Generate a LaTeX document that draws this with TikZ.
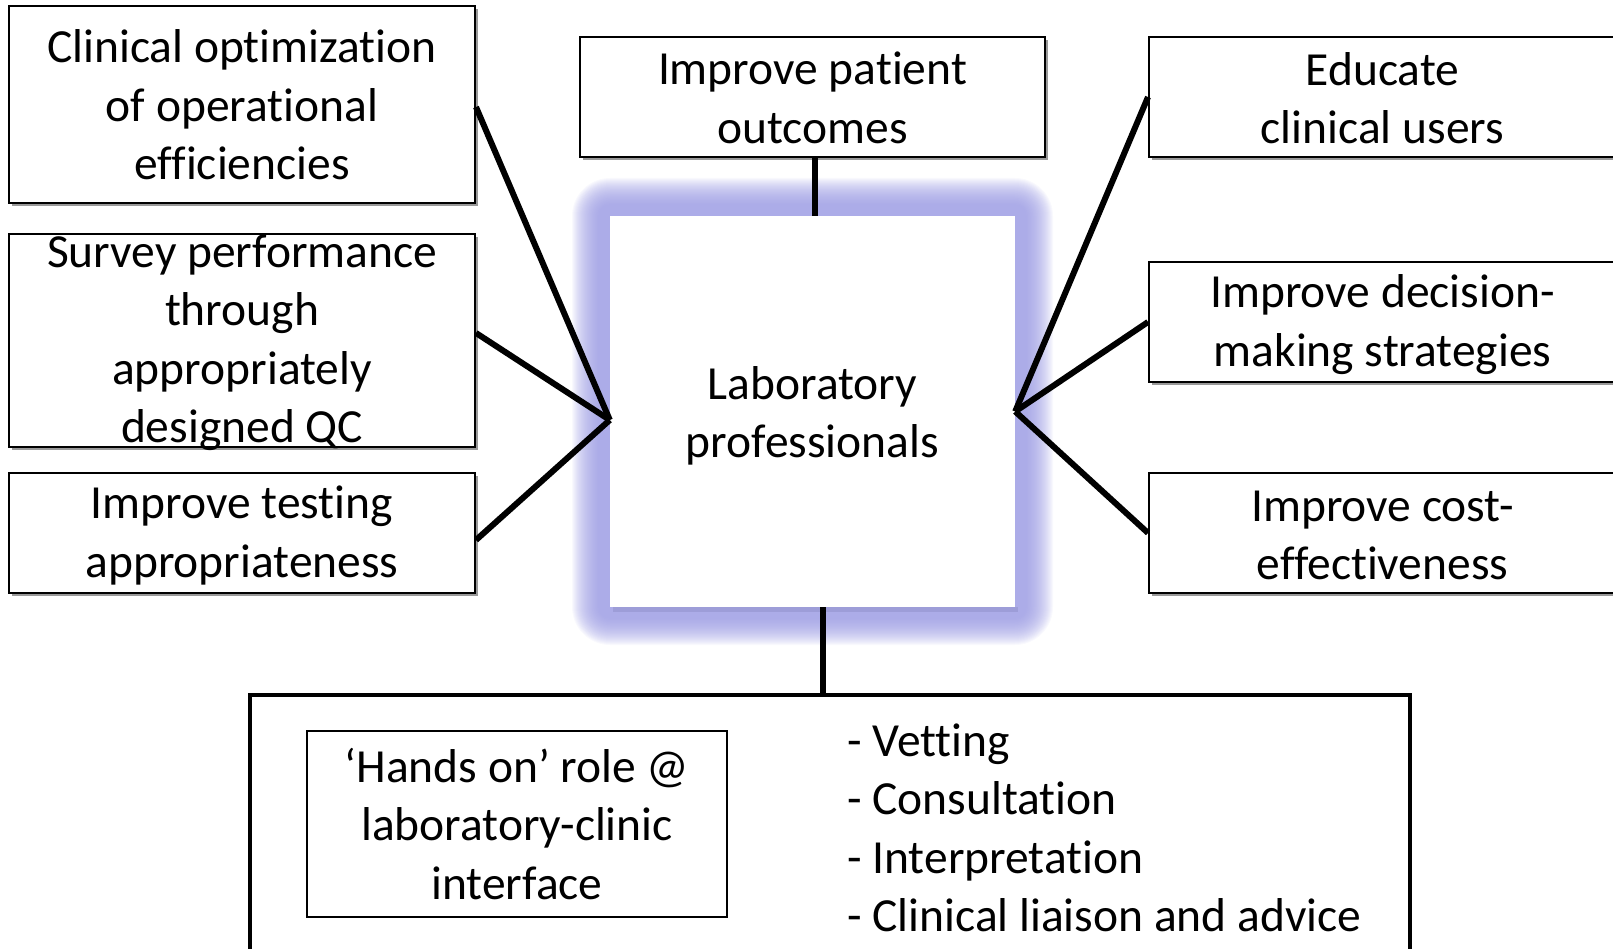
\documentclass[tikz,border=0pt]{standalone}
\usepackage{fontspec}
\setmainfont{Carlito}[Ligatures={NoCommon,NoRare,NoContextual},RawFeature={-clig;-dlig}]
\begin{document}
\begin{tikzpicture}[x=1pt,y=-1pt,
  txt/.style={font=\fontsize{47.5}{58.5}\selectfont, align=center, inner sep=0pt, text=black},
  boxtxt/.style={txt, yshift=-2.5pt},
  box/.style={draw=black, line width=2pt, fill=white, inner sep=0pt,
    preaction={fill=black!40, transform canvas={shift={(3pt,-3pt)}}}},
  link/.style={draw=black, line width=6pt},
]
\definecolor{glowblue}{RGB}{152,152,226}
\useasboundingbox (0,0) rectangle (1613,949);

% soft halo behind the central box
\foreach \r in {38,37,...,12}
  \fill[glowblue, opacity=0.058, rounded corners=\r pt]
    (610-\r,216-\r) rectangle (1015+\r,607+\r);
\fill[glowblue!75!black, opacity=0.25] (613,607) rectangle (1018,612);

% central box
\node[draw=none, fill=white, minimum width=405pt, minimum height=391pt, inner sep=0pt]
  (ctr) at (812.5,411.5) {};
\node[boxtxt, yshift=-2pt] at (ctr.center) {Laboratory\\professionals};

% left column
\node[box, minimum width=466pt, minimum height=197pt] (b1) at (242,104.5) {};
\node[boxtxt, yshift=2pt] at (b1.center) {Clinical optimization\\of operational\\efficiencies};
\node[box, minimum width=466pt, minimum height=213pt] (b2) at (242,340.5) {};
\node[boxtxt] at (b2.center) {Survey performance\\through\\appropriately\\designed QC};
\node[box, minimum width=466pt, minimum height=120pt] (b3) at (242,533) {};
\node[boxtxt] at (b3.center) {Improve testing\\appropriateness};

% top centre
\node[box, minimum width=465pt, minimum height=120pt] (top) at (812.5,97) {};
\node[boxtxt, yshift=1.5pt] at (top.center) {Improve patient\\outcomes};

% right column
\node[box, minimum width=467pt, minimum height=120pt] (r1) at (1382.5,97) {};
\node[boxtxt, yshift=1.5pt] at (r1.center) {Educate\\clinical users};
\node[box, minimum width=467pt, minimum height=120pt] (r2) at (1382.5,322) {};
\node[boxtxt] at (r2.center) {Improve decision-\\making strategies};
\node[box, minimum width=467pt, minimum height=120pt] (r3) at (1382.5,533) {};
\node[boxtxt] at (r3.center) {Improve cost-\\effectiveness};

% bottom panel
\node[draw=black, line width=3.5pt, fill=white, minimum width=1160pt, minimum height=300pt,
  inner sep=0pt] (bot) at (830,845) {};
\node[draw=black, line width=2pt, minimum width=420pt, minimum height=186pt, inner sep=0pt]
  (hands) at (517,824) {};
\node[txt] at (hands.center) {‘Hands on’ role @\\laboratory-clinic\\interface};
\node[txt, align=left, anchor=west] (list) at (847,828)
  {- Vetting\\- Consultation\\- Interpretation\\- Clinical liaison and advice};

% connectors
\draw[link] ([yshift=-2.5pt]b1.east) -- ([yshift=-8.5pt]ctr.west);
\draw[link] ([yshift=7.5pt]b2.east) -- ([yshift=-8.5pt]ctr.west);
\draw[link] ([yshift=-7pt]b3.east) -- ([yshift=-8.5pt]ctr.west);
\draw[link] (r1.west) -- (ctr.east);
\draw[link] (r2.west) -- (ctr.east);
\draw[link] (r3.west) -- (ctr.east);
\draw[link] ([xshift=2.5pt]top.south) -- ([xshift=2.5pt]ctr.north);
\coordinate (ctrfoot) at ([xshift=10.5pt]ctr.south);
\draw[link] (ctrfoot) -- (ctrfoot |- bot.north);
\end{tikzpicture}
\end{document}
